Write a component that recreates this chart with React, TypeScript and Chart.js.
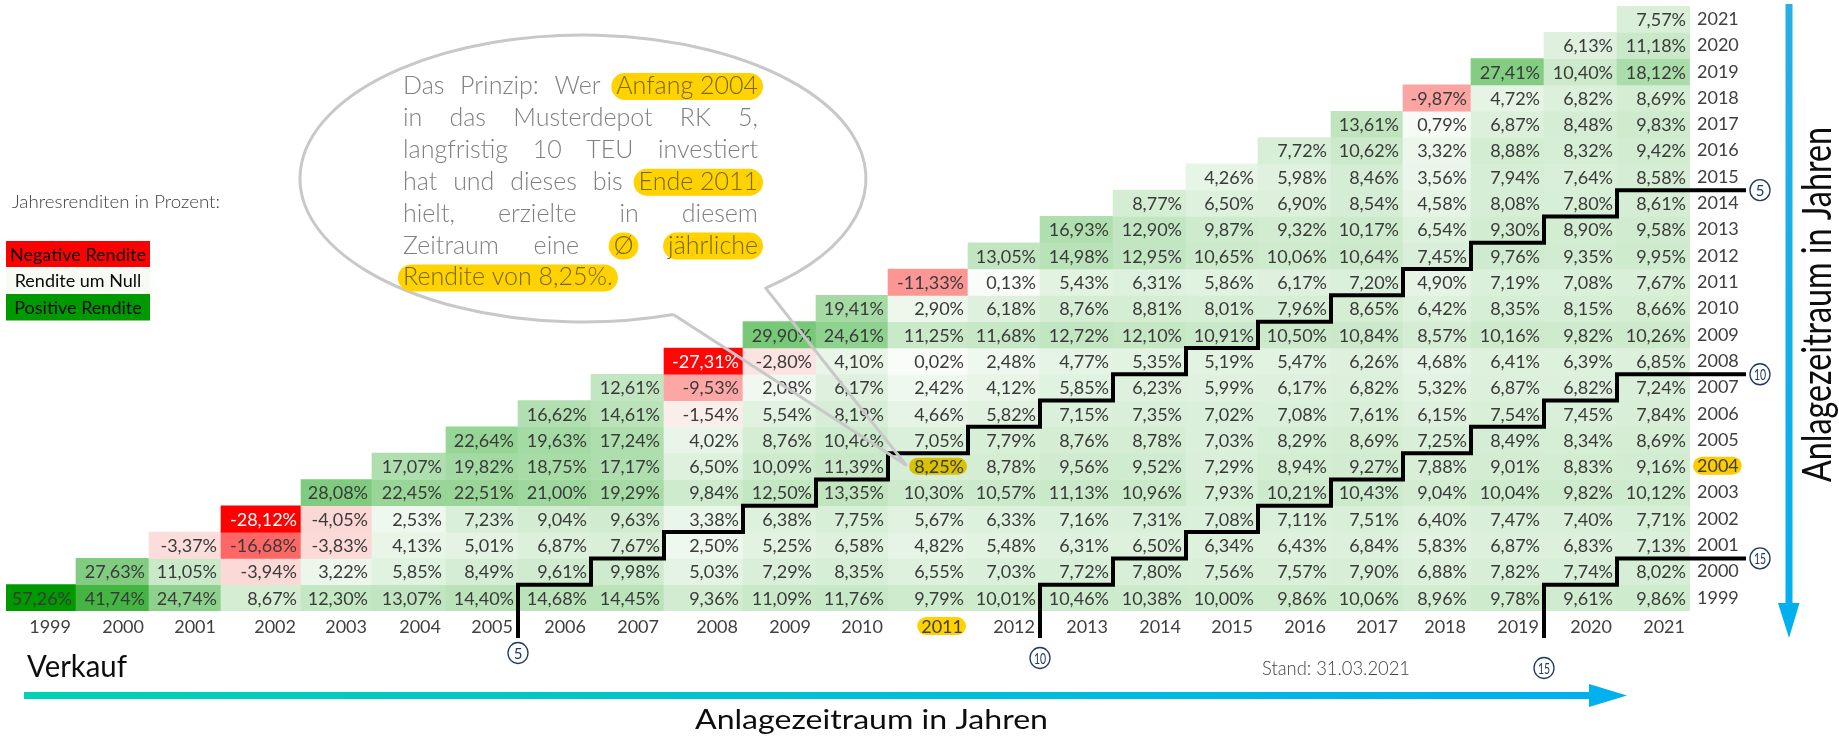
import React, { useEffect, useRef } from 'react';
import { Chart, registerables } from 'chart.js';

Chart.register(...registerables);

// ---------- data ----------
const SELL_YEARS = ['1999','2000','2001','2002','2003','2004','2005','2006','2007','2008','2009','2010','2011','2012','2013','2014','2015','2016','2017','2018','2019','2020','2021'];
const BUY_YEARS = ['2021','2020','2019','2018','2017','2016','2015','2014','2013','2012','2011','2010','2009','2008','2007','2006','2005','2004','2003','2002','2001','2000','1999'];

// average annual return (%) for purchase at start of year X, sale at end of year X, X+1, ...
const RET_1999 = [57.26, 41.74, 24.74, 8.67, 12.30, 13.07, 14.40, 14.68, 14.45, 9.36, 11.09, 11.76, 9.79, 10.01, 10.46, 10.38, 10.00, 9.86, 10.06, 8.96, 9.78, 9.61, 9.86];
const RET_2000 = [27.63, 11.05, -3.94, 3.22, 5.85, 8.49, 9.61, 9.98, 5.03, 7.29, 8.35, 6.55, 7.03, 7.72, 7.80, 7.56, 7.57, 7.90, 6.88, 7.82, 7.74, 8.02];
const RET_2001 = [-3.37, -16.68, -3.83, 4.13, 5.01, 6.87, 7.67, 2.50, 5.25, 6.58, 4.82, 5.48, 6.31, 6.50, 6.34, 6.43, 6.84, 5.83, 6.87, 6.83, 7.13];
const RET_2002 = [-28.12, -4.05, 2.53, 7.23, 9.04, 9.63, 3.38, 6.38, 7.75, 5.67, 6.33, 7.16, 7.31, 7.08, 7.11, 7.51, 6.40, 7.47, 7.40, 7.71];
const RET_2003 = [28.08, 22.45, 22.51, 21.00, 19.29, 9.84, 12.50, 13.35, 10.30, 10.57, 11.13, 10.96, 7.93, 10.21, 10.43, 9.04, 10.04, 9.82, 10.12];
const RET_2004 = [17.07, 19.82, 18.75, 17.17, 6.50, 10.09, 11.39, 8.25, 8.78, 9.56, 9.52, 7.29, 8.94, 9.27, 7.88, 9.01, 8.83, 9.16];
const RET_2005 = [22.64, 19.63, 17.24, 4.02, 8.76, 10.46, 7.05, 7.79, 8.76, 8.78, 7.03, 8.29, 8.69, 7.25, 8.49, 8.34, 8.69];
const RET_2006 = [16.62, 14.61, -1.54, 5.54, 8.19, 4.66, 5.82, 7.15, 7.35, 7.02, 7.08, 7.61, 6.15, 7.54, 7.45, 7.84];
const RET_2007 = [12.61, -9.53, 2.08, 6.17, 2.42, 4.12, 5.85, 6.23, 5.99, 6.17, 6.82, 5.32, 6.87, 6.82, 7.24];
const RET_2008 = [-27.31, -2.80, 4.10, 0.02, 2.48, 4.77, 5.35, 5.19, 5.47, 6.26, 4.68, 6.41, 6.39, 6.85];
const RET_2009 = [29.90, 24.61, 11.25, 11.68, 12.72, 12.10, 10.91, 10.50, 10.84, 8.57, 10.16, 9.82, 10.26];
const RET_2010 = [19.41, 2.90, 6.18, 8.76, 8.81, 8.01, 7.96, 8.65, 6.42, 8.35, 8.15, 8.66];
const RET_2011 = [-11.33, 0.13, 5.43, 6.31, 5.86, 6.17, 7.20, 4.90, 7.19, 7.08, 7.67];
const RET_2012 = [13.05, 14.98, 12.95, 10.65, 10.06, 10.64, 7.45, 9.76, 9.35, 9.95];
const RET_2013 = [16.93, 12.90, 9.87, 9.32, 10.17, 6.54, 9.30, 8.90, 9.58];
const RET_2014 = [8.77, 6.50, 6.90, 8.54, 4.58, 8.08, 7.80, 8.61];
const RET_2015 = [4.26, 5.98, 8.46, 3.56, 7.94, 7.64, 8.58];
const RET_2016 = [7.72, 10.62, 3.32, 8.88, 8.32, 9.42];
const RET_2017 = [13.61, 0.79, 6.87, 8.48, 9.83];
const RET_2018 = [-9.87, 4.72, 6.82, 8.69];
const RET_2019 = [27.41, 10.40, 18.12];
const RET_2020 = [6.13, 11.18];
const RET_2021 = [7.57];

const RETURNS_BY_BUY: [number, number[]][] = [
  [1999, RET_1999], [2000, RET_2000], [2001, RET_2001], [2002, RET_2002], [2003, RET_2003],
  [2004, RET_2004], [2005, RET_2005], [2006, RET_2006], [2007, RET_2007], [2008, RET_2008],
  [2009, RET_2009], [2010, RET_2010], [2011, RET_2011], [2012, RET_2012], [2013, RET_2013],
  [2014, RET_2014], [2015, RET_2015], [2016, RET_2016], [2017, RET_2017], [2018, RET_2018],
  [2019, RET_2019], [2020, RET_2020], [2021, RET_2021],
];

const HL_BUY = '2004';
const HL_SELL = '2011';
const STEP_OFFSETS = [7, 14, 21];
const STEP_LABELS = ['5', '10', '15'];

const BUBBLE_LINES: [string, boolean][][] = [
  [['Das', false], ['Prinzip:', false], ['Wer', false], ['Anfang 2004', true]],
  [['in', false], ['das', false], ['Musterdepot', false], ['RK', false], ['5,', false]],
  [['langfristig', false], ['10', false], ['TEU', false], ['investiert', false]],
  [['hat', false], ['und', false], ['dieses', false], ['bis', false], ['Ende 2011', true]],
  [['hielt,', false], ['erzielte', false], ['in', false], ['diesem', false]],
  [['Zeitraum', false], ['eine', false], ['Ø', true], ['jährliche', true]],
  [['Rendite von 8,25%.', true]],
];

// ---------- layout / style ----------
const W = 1839, H = 738;
const COL_WIDTHS = [70, 73, 72, 80, 71, 74, 72, 73, 73, 79, 73, 72, 80, 72, 73, 73, 72, 73, 72, 68, 73, 73, 73];
const COL_LEFT: number[] = [];
COL_WIDTHS.reduce((acc, w) => { COL_LEFT.push(acc); return acc + w; }, 0);
const TOTAL_W = COL_WIDTHS.reduce((a, b) => a + b, 0);
const COL_RIGHT = COL_LEFT.map((l, i) => l + COL_WIDTHS[i]);

const RED = [255, 0, 0], MID = [250, 252, 249], GREEN = [0, 153, 0];
const ALL_VALUES = RETURNS_BY_BUY.flatMap(([, a]) => a);
const VMIN = Math.min(...ALL_VALUES), VMAX = Math.max(...ALL_VALUES);
const mix = (a: number[], b: number[], t: number) =>
  `rgb(${a.map((c, i) => Math.round(c + (b[i] - c) * t)).join(',')})`;
const cellColor = (v: number) => (v < 0 ? mix(MID, RED, v / VMIN) : mix(MID, GREEN, v / VMAX));
const fmt = (v: number) => v.toFixed(2).replace('.', ',') + '%';

const CELL_FONT = '400 18px Lato';
const TEXT_DARK = '#3a3a3a';

type Cell = { x: [number, number]; y: string; v: number; buy: number; sell: number };
const CELLS: Cell[] = [];
RETURNS_BY_BUY.forEach(([buy, arr]) => {
  arr.forEach((v, k) => {
    const ci = buy - 1999 + k;
    CELLS.push({ x: [COL_LEFT[ci], COL_RIGHT[ci]], y: String(buy), v, buy, sell: buy + k });
  });
});

function pill(ctx: CanvasRenderingContext2D, x: number, y: number, w: number, h: number, color: string) {
  const r = Math.min(h / 2, w / 2);
  ctx.beginPath();
  ctx.moveTo(x + r, y);
  ctx.lineTo(x + w - r, y);
  ctx.arc(x + w - r, y + r, r, -Math.PI / 2, Math.PI / 2);
  ctx.lineTo(x + r, y + h);
  ctx.arc(x + r, y + r, r, Math.PI / 2, Math.PI * 1.5);
  ctx.closePath();
  ctx.fillStyle = color;
  ctx.fill();
}

function fitText(ctx: CanvasRenderingContext2D, text: string, x: number, y: number, font: string, targetW: number, color: string) {
  ctx.save();
  ctx.font = font;
  ctx.fillStyle = color;
  ctx.textAlign = 'left';
  ctx.textBaseline = 'alphabetic';
  const w = ctx.measureText(text).width;
  ctx.translate(x, y);
  ctx.scale(targetW / w, 1);
  ctx.fillText(text, 0, 0);
  ctx.restore();
}

function circleNum(ctx: CanvasRenderingContext2D, cx: number, cy: number, label: string) {
  ctx.save();
  ctx.beginPath();
  ctx.ellipse(cx, cy, 10, 10.5, 0, 0, Math.PI * 2);
  ctx.fillStyle = '#ffffff';
  ctx.fill();
  ctx.lineWidth = 1.3;
  ctx.strokeStyle = '#1f3864';
  ctx.stroke();
  ctx.fillStyle = '#1f3864';
  ctx.textAlign = 'center';
  ctx.textBaseline = 'middle';
  ctx.font = '400 15px Lato';
  ctx.translate(cx, cy + 1);
  if (label.length > 1) ctx.scale(0.7, 1);
  ctx.fillText(label, 0, 0);
  ctx.restore();
}

// yellow pill behind a given axis tick label, located from the scale's own label items
function highlightAxisLabel(ctx: CanvasRenderingContext2D, scale: any, label: string, color: string) {
  const items = scale.getLabelItems();
  const it = items.find((i: any) => i.label === label);
  if (!it) return;
  const o = it.options;
  const tx = o.translation[0];
  const ty = o.translation[1] + it.textOffset;
  ctx.save();
  ctx.font = it.font.string;
  ctx.textBaseline = o.textBaseline;
  const m = ctx.measureText(label);
  const top = ty - m.actualBoundingBoxAscent;
  const bottom = ty + m.actualBoundingBoxDescent;
  const cy = (top + bottom) / 2;
  const left = o.textAlign === 'right' ? tx - m.width : o.textAlign === 'center' ? tx - m.width / 2 : tx;
  pill(ctx, left - 4, cy - 9, m.width + 7, 18, color);
  ctx.restore();
}

const decorPlugin = {
  id: 'decor',
  beforeDraw(chart: any) {
    const ctx: CanvasRenderingContext2D = chart.ctx;
    highlightAxisLabel(ctx, chart.scales.x, HL_SELL, '#FFD200');
    highlightAxisLabel(ctx, chart.scales.y, HL_BUY, '#FFCC00');
  },
  afterDatasetsDraw(chart: any) {
    const ctx: CanvasRenderingContext2D = chart.ctx;
    const meta = chart.getDatasetMeta(0);
    const xs = chart.scales.x, ys = chart.scales.y;
    ctx.save();
    ctx.font = CELL_FONT;
    ctx.textAlign = 'right';
    ctx.textBaseline = 'middle';
    meta.data.forEach((el: any, i: number) => {
      const c = CELLS[i];
      const p = el.getProps(['x', 'y', 'base', 'height'], true);
      const right = Math.max(p.x, p.base);
      const txt = fmt(c.v);
      if (String(c.buy) === HL_BUY && String(c.sell) === HL_SELL) {
        const tw = ctx.measureText(txt).width;
        pill(ctx, right - tw - 9, p.y - 8.5, tw + 8, 17, '#D9C200');
      }
      ctx.fillStyle = c.v <= -20 ? '#ffffff' : TEXT_DARK;
      ctx.fillText(txt, right - 4, p.y + 1);
    });
    ctx.restore();

    // staircase lines
    const band = (ys.bottom - ys.top) / BUY_YEARS.length;
    const rowTop = (year: number) => ys.getPixelForValue(BUY_YEARS.indexOf(String(year))) - band / 2;
    const colL = (year: number) => xs.getPixelForValue(COL_LEFT[year - 1999]);
    const tableBottom = ys.bottom;
    ctx.save();
    ctx.strokeStyle = '#000000';
    ctx.lineWidth = 4;
    ctx.lineJoin = 'miter';
    STEP_OFFSETS.forEach((k) => {
      ctx.beginPath();
      ctx.moveTo(colL(1999 + k), tableBottom + 27);
      for (let r = 1999; r + k <= 2021; r++) {
        const x = colL(r + k);
        ctx.lineTo(x, rowTop(r));
        if (r + k < 2021) ctx.lineTo(colL(r + k + 1), rowTop(r));
        else ctx.lineTo(1746, rowTop(r));
      }
      ctx.stroke();
    });
    ctx.restore();
  },
  afterDraw(chart: any) {
    const ctx: CanvasRenderingContext2D = chart.ctx;
    const xs = chart.scales.x, ys = chart.scales.y;
    const band = (ys.bottom - ys.top) / BUY_YEARS.length;
    const rowTop = (year: number) => ys.getPixelForValue(BUY_YEARS.indexOf(String(year))) - band / 2;

    // circles
    const bottomY = [653, 658, 668];
    STEP_OFFSETS.forEach((k, i) => {
      circleNum(ctx, xs.getPixelForValue(COL_LEFT[k]), bottomY[i], STEP_LABELS[i]);
      circleNum(ctx, 1760, rowTop(2021 - k), STEP_LABELS[i]);
    });

    // speech bubble
    const cx = 583, cy = 178.5, rx = 283, ry = 143.5;
    const tL = 1.246, tR = 0.869;
    const tip = [906, 465];
    ctx.save();
    ctx.beginPath();
    ctx.ellipse(cx, cy, rx, ry, 0, 0, Math.PI * 2);
    ctx.fillStyle = '#ffffff';
    ctx.fill();
    ctx.beginPath();
    ctx.ellipse(cx, cy, rx, ry, 0, tL, tR + Math.PI * 2, false);
    ctx.lineTo(tip[0], tip[1]);
    ctx.lineTo(cx + rx * Math.cos(tL), cy + ry * Math.sin(tL));
    ctx.strokeStyle = '#c8c8c8';
    ctx.lineWidth = 3;
    ctx.lineJoin = 'round';
    ctx.stroke();
    ctx.restore();

    // bubble text (justified)
    ctx.save();
    ctx.font = '300 25px Lato';
    ctx.textBaseline = 'alphabetic';
    ctx.textAlign = 'left';
    const left = 403, right = 758;
    BUBBLE_LINES.forEach((line, li) => {
      const base = 94 + li * 31.9;
      const widths = line.map(([t]) => ctx.measureText(t).width);
      const sum = widths.reduce((a, b) => a + b, 0);
      const last = li === BUBBLE_LINES.length - 1;
      const gap = last || line.length < 2 ? ctx.measureText(' ').width : (right - left - sum) / (line.length - 1);
      let x = left;
      line.forEach(([t, hl], ti) => {
        if (hl) pill(ctx, x - 5, base - 21, widths[ti] + 10, 27, '#FFD200');
        ctx.fillStyle = hl ? '#76680a' : '#808080';
        ctx.fillText(t, x, base);
        x += widths[ti] + gap;
      });
    });
    ctx.restore();

    // legend
    fitText(ctx, 'Jahresrenditen in Prozent:', 12, 208, '300 17px Lato', 208, '#404040');
    const boxes: [string, string, number][] = [
      ['Negative Rendite', '#FF0000', 241],
      ['Rendite um Null', '#F8FAF4', 267],
      ['Positive Rendite', '#009900', 294],
    ];
    boxes.forEach(([t, col, y]) => {
      ctx.fillStyle = col;
      ctx.fillRect(6, y, 144, y === 267 ? 27 : 26.5);
      ctx.save();
      ctx.font = '400 18px Lato';
      ctx.fillStyle = '#0a0a0a';
      ctx.textAlign = 'center';
      ctx.textBaseline = 'middle';
      ctx.fillText(t, 78, y + 14);
      ctx.restore();
    });

    // bottom arrow
    ctx.save();
    const g1 = ctx.createLinearGradient(24, 0, 1627, 0);
    g1.addColorStop(0, '#00D2B4');
    g1.addColorStop(1, '#00B0F0');
    ctx.fillStyle = g1;
    ctx.fillRect(24, 692, 1566, 7);
    ctx.beginPath();
    ctx.moveTo(1589, 684);
    ctx.lineTo(1627, 695.5);
    ctx.lineTo(1589, 707);
    ctx.closePath();
    ctx.fill();
    // right arrow
    const g2 = ctx.createLinearGradient(0, 4, 0, 638);
    g2.addColorStop(0, '#2AAEE4');
    g2.addColorStop(1, '#00B0F0');
    ctx.fillStyle = g2;
    ctx.fillRect(1785.5, 4, 7, 600);
    ctx.beginPath();
    ctx.moveTo(1778, 603);
    ctx.lineTo(1799.5, 603);
    ctx.lineTo(1789, 638);
    ctx.closePath();
    ctx.fill();
    ctx.restore();

    // texts
    fitText(ctx, 'Verkauf', 27, 677, '400 30px Lato', 100, '#0d0d0d');
    fitText(ctx, 'Stand: 31.03.2021', 1262, 675, '300 19px Lato', 148, '#404040');
    fitText(ctx, 'Anlagezeitraum in Jahren', 695, 729, '400 27px Lato', 353, '#0d0d0d');
    ctx.save();
    ctx.translate(1831, 482);
    ctx.rotate(-Math.PI / 2);
    ctx.font = '400 40px Lato';
    const vw = ctx.measureText('Anlagezeitraum in Jahren').width;
    ctx.scale(355 / vw, 1);
    ctx.fillStyle = '#0d0d0d';
    ctx.textBaseline = 'alphabetic';
    ctx.fillText('Anlagezeitraum in Jahren', 0, 0);
    ctx.restore();
  },
};

export default function App() {
  const ref = useRef<HTMLCanvasElement | null>(null);
  useEffect(() => {
    document.body.style.margin = '0';
    const canvas = ref.current;
    if (!canvas) return;
    const chart = new Chart(canvas, {
      type: 'bar',
      data: {
        labels: BUY_YEARS,
        datasets: [
          {
            data: CELLS as any,
            backgroundColor: (c: any) => (c.raw ? cellColor(c.raw.v) : 'transparent'),
            borderWidth: 0,
            barPercentage: 1,
            categoryPercentage: 1,
            grouped: false,
          } as any,
        ],
      },
      options: {
        indexAxis: 'y',
        responsive: false,
        animation: false,
        events: [],
        layout: { padding: { left: 6, top: 6, right: 89, bottom: 87 } },
        plugins: { legend: { display: false }, tooltip: { enabled: false } },
        scales: {
          x: {
            type: 'linear',
            position: 'bottom',
            min: 0,
            max: TOTAL_W,
            grid: { display: false, drawTicks: false },
            border: { display: false },
            afterBuildTicks: (s: any) => {
              s.ticks = COL_RIGHT.map((r) => ({ value: r - 5 }));
            },
            afterFit: (s: any) => { s.height = 40; s.paddingLeft = 0; s.paddingRight = 0; },
            ticks: {
              autoSkip: false,
              maxRotation: 0,
              minRotation: 0,
              align: 'end',
              padding: 5,
              color: '#404040',
              font: { family: 'Lato', size: 18, weight: '400' },
              callback: (_v: any, i: number) => SELL_YEARS[i],
            },
          },
          y: {
            type: 'category',
            position: 'right',
            offset: true,
            grid: { display: false, offset: true, drawTicks: false },
            border: { display: false },
            afterFit: (s: any) => { s.width = 60; s.paddingTop = 0; s.paddingBottom = 0; },
            ticks: {
              padding: 7,
              color: '#404040',
              font: { family: 'Lato', size: 18, weight: '400' },
            },
          },
        },
      } as any,
      plugins: [decorPlugin],
    });
    return () => chart.destroy();
  }, []);
  return (
    <div style={{ width: W, height: H }}>
      <canvas ref={ref} width={W} height={H} style={{ display: 'block', width: W, height: H }} />
    </div>
  );
}
